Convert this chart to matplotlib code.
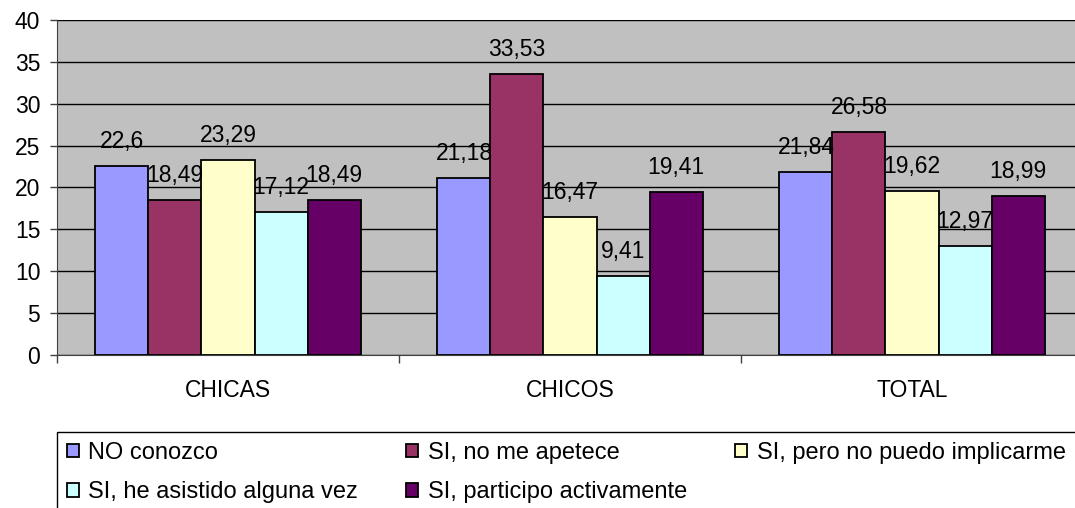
import numpy as np
import matplotlib
matplotlib.use("Agg")
import matplotlib.pyplot as plt
from matplotlib.patches import Rectangle

plt.rcParams['font.family'] = ['Liberation Sans', 'DejaVu Sans']

# datos
grupos = ["CHICAS", "CHICOS", "TOTAL"]
series = ["NO conozco", "SI, no me apetece", "SI, pero no puedo implicarme",
          "SI, he asistido alguna vez", "SI, participo activamente"]
no_conozco = [22.6, 21.18, 21.84]
no_apetece = [18.49, 33.53, 26.58]
no_puedo = [23.29, 16.47, 19.62]
asistido = [17.12, 9.41, 12.97]
participo = [18.49, 19.41, 18.99]
valores = [no_conozco, no_apetece, no_puedo, asistido, participo]
colores = ["#9999FF", "#993366", "#FFFFCC", "#CCFFFF", "#660066"]

W, H = 1075, 508
fs = 16.5
fig = plt.figure(figsize=(W / 100, H / 100), dpi=100)
ax = fig.add_axes([57 / W, 1 - 355 / H, 1026 / W, 335 / H])
ax.set_facecolor("#C0C0C0")

x = np.arange(len(grupos))
ancho = 0.155
barras = []
for i, (vals, col) in enumerate(zip(valores, colores)):
    pos = x + (i - 2) * ancho
    b = ax.bar(pos, vals, ancho, color=col, edgecolor="black", linewidth=1.3,
               zorder=3, label=series[i])
    barras.append(b)
    for px, v in zip(pos, vals):
        ax.annotate(f"{v:g}".replace(".", ","), (px, v), xytext=(0, 13),
                    textcoords="offset points", ha="center", va="baseline",
                    fontsize=fs, zorder=4)

ax.set_ylim(0, 40)
ax.set_xlim(-0.5, 2.5)
ax.set_yticks(range(0, 41, 5))
ax.yaxis.grid(True, color="black", linewidth=1, zorder=1)
ax.set_axisbelow(True)

ax.set_xticks(x)
ax.set_xticklabels(grupos)
ax.set_xticks([-0.5, 0.5, 1.5, 2.5], minor=True)
ax.tick_params(axis="x", which="major", length=0, pad=17, labelsize=fs)
ax.tick_params(axis="x", which="minor", length=6, width=1, color="#404040")
ax.tick_params(axis="y", length=5, width=1, color="#404040", labelsize=fs, pad=7)

for s in ["top", "right"]:
    ax.spines[s].set_visible(False)
ax.spines["left"].set_color("#404040")
ax.spines["bottom"].set_color("#404040")

# leyenda (marco aparte, sale por la derecha y por abajo)
orden = [0, 3, 1, 4, 2]
handles = [barras[i] for i in orden]
labels = [series[i] for i in orden]
leg = fig.legend(handles, labels, ncol=3, loc="upper left",
                 bbox_to_anchor=(67 / W, 1 - 442 / H), fontsize=17,
                 frameon=False, handlelength=0.5, handleheight=0.5,
                 handletextpad=0.4, columnspacing=2.05, labelspacing=0.73,
                 borderpad=0, borderaxespad=0)
for h in leg.legend_handles:
    h.set_edgecolor("black")
    h.set_linewidth(1.3)

fig.patches.append(Rectangle((57 / W, -0.1), 1.0, 0.1 + 1 - 432 / H,
                             transform=fig.transFigure, fill=False,
                             edgecolor="black", linewidth=1))

fig.savefig("out.png", dpi=100)
